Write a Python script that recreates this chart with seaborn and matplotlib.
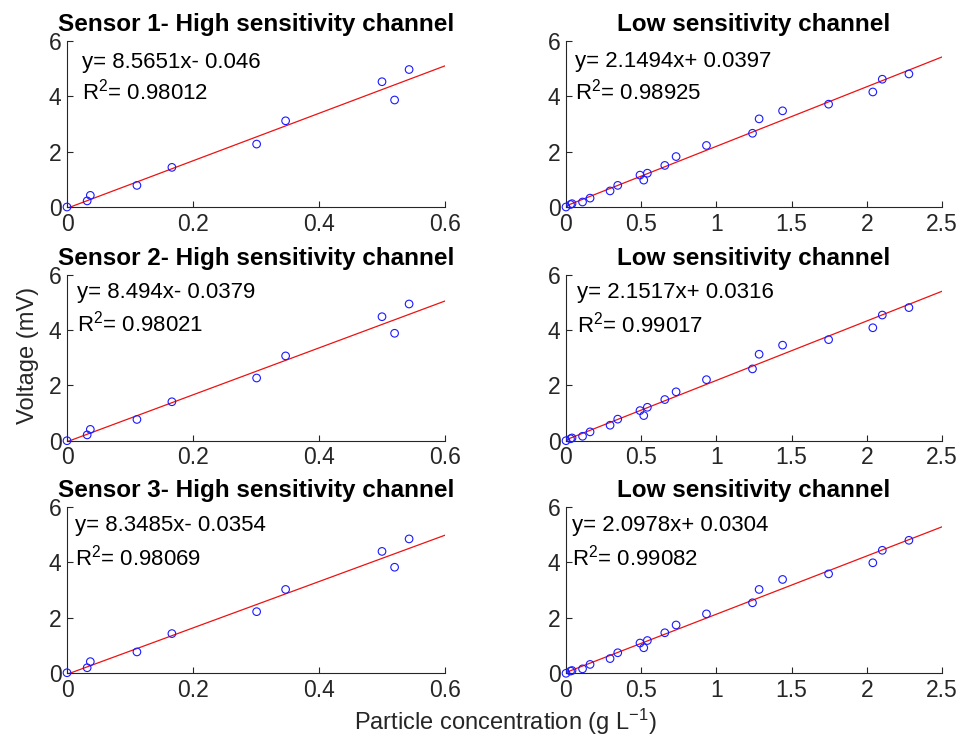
import numpy as np
import pandas as pd
import matplotlib
matplotlib.use("Agg")
import matplotlib.pyplot as plt
import seaborn as sns

# ---- data ----
high_x = [0.0, 0.032, 0.037, 0.111, 0.1665, 0.301, 0.347, 0.500, 0.520, 0.543]
high_y1 = [0.0, 0.22, 0.42, 0.78, 1.43, 2.27, 3.11, 4.52, 3.86, 4.96]
high_y2 = [0.0, 0.21, 0.41, 0.77, 1.41, 2.27, 3.07, 4.49, 3.89, 4.95]
high_y3 = [0.02, 0.20, 0.42, 0.77, 1.43, 2.22, 3.02, 4.39, 3.82, 4.84]

low_x = [0.0, 0.03, 0.04, 0.11, 0.16, 0.293, 0.344, 0.492, 0.517, 0.541,
         0.657, 0.732, 0.934, 1.24, 1.284, 1.44, 1.746, 2.04, 2.103, 2.28]
low_y1 = [0.0, 0.09, 0.12, 0.18, 0.32, 0.58, 0.78, 1.15, 0.97, 1.22,
          1.50, 1.82, 2.22, 2.66, 3.18, 3.47, 3.71, 4.15, 4.61, 4.80]
low_y2 = [0.0, 0.07, 0.10, 0.16, 0.32, 0.56, 0.78, 1.09, 0.91, 1.21,
          1.49, 1.77, 2.21, 2.60, 3.13, 3.46, 3.66, 4.09, 4.55, 4.82]
low_y3 = [0.0, 0.08, 0.10, 0.16, 0.32, 0.53, 0.74, 1.09, 0.92, 1.18,
          1.46, 1.74, 2.14, 2.54, 3.02, 3.38, 3.58, 3.98, 4.43, 4.79]

titles = ["Sensor 1- High sensitivity channel", "Low sensitivity channel",
          "Sensor 2- High sensitivity channel", "Low sensitivity channel",
          "Sensor 3- High sensitivity channel", "Low sensitivity channel"]
slopes = [8.5651, 2.1494, 8.494, 2.1517, 8.3485, 2.0978]
intercepts = [-0.046, 0.0397, -0.0379, 0.0316, -0.0354, 0.0304]
eq_texts = ["y= 8.5651x- 0.046", "y= 2.1494x+ 0.0397",
            "y= 8.494x- 0.0379", "y= 2.1517x+ 0.0316",
            "y= 8.3485x- 0.0354", "y= 2.0978x+ 0.0304"]
r2_texts = ["0.98012", "0.98925", "0.98021", "0.99017", "0.98069", "0.99082"]

high_xticks = [0, 0.2, 0.4, 0.6]
high_xticklabels = ["0", "0.2", "0.4", "0.6"]
low_xticks = [0, 0.5, 1, 1.5, 2, 2.5]
low_xticklabels = ["0", "0.5", "1", "1.5", "2", "2.5"]
yticks = [0, 2, 4, 6]
yticklabels = ["0", "2", "4", "6"]

# ---- style ----
sns.set_theme(style="ticks")
plt.rcParams['font.family'] = ['Liberation Sans', 'DejaVu Sans']
plt.rcParams['mathtext.fontset'] = 'custom'
plt.rcParams['mathtext.rm'] = 'Liberation Sans'
plt.rcParams['mathtext.it'] = 'Liberation Sans'

dark = "#262626"
fig = plt.figure(figsize=(9.64, 7.43), dpi=100)
W, H = 964, 743
col_x = [(67, 445), (566, 942)]
row_y = [(40.7, 207), (275, 440.7), (506.7, 673.3)]

ys_high = [high_y1, high_y2, high_y3]
ys_low = [low_y1, low_y2, low_y3]
text_pos = [(0.024, 5.23, 4.16), (0.06, 5.24, 4.16),
            (0.016, 5.35, 4.26), (0.073, 5.35, 4.19),
            (0.013, 5.33, 4.18), (0.04, 5.33, 4.18)]

for r in range(3):
    for c in range(2):
        i = r * 2 + c
        x0, x1 = col_x[c]
        yt, yb = row_y[r]
        ax = fig.add_axes([x0 / W, 1 - yb / H, (x1 - x0) / W, (yb - yt) / H])
        if c == 0:
            xs, ys = high_x, ys_high[r]
            xmax, xt, xtl = 0.6, high_xticks, high_xticklabels
        else:
            xs, ys = low_x, ys_low[r]
            xmax, xt, xtl = 2.5, low_xticks, low_xticklabels
        df = pd.DataFrame({"x": xs, "y": ys})
        fit = pd.DataFrame({"x": [0, xmax]})
        fit["y"] = slopes[i] * fit["x"] + intercepts[i]
        sns.lineplot(data=fit, x="x", y="y", ax=ax, color="#ee1111", linewidth=0.9)
        sns.scatterplot(data=df, x="x", y="y", ax=ax, marker="o", s=30,
                        facecolors="none", edgecolor="#1a1aff", linewidth=0.8,
                        zorder=3, clip_on=False)
        ax.set_xlim(0, xmax)
        ax.set_ylim(0, 6)
        ax.set_xticks(xt)
        ax.set_xticklabels(xtl)
        ax.set_yticks(yticks)
        ax.set_yticklabels(yticklabels)
        ax.set_xlabel("")
        ax.set_ylabel("")
        ax.tick_params(direction="in", length=4, width=0.8, colors=dark,
                       labelsize=16.5, pad=4, labelcolor=dark)
        for s in ["top", "right"]:
            ax.spines[s].set_visible(False)
        for s in ["left", "bottom"]:
            ax.spines[s].set_color(dark)
            ax.spines[s].set_linewidth(0.8)
        ax.set_title(titles[i], fontsize=17.5, fontweight="bold", color="black", pad=7)
        tx, ty1, ty2 = text_pos[i]
        ax.text(tx, ty1, eq_texts[i], fontsize=16, color="black", va="center", ha="left")
        ax.text(tx, ty2, "R$^2$= " + r2_texts[i], fontsize=16, color="black",
                va="center", ha="left")

fig.text(28 / W, 1 - 355 / H, "Voltage (mV)", rotation=90, fontsize=17,
         color=dark, va="center", ha="center")
fig.text(505 / W, 1 - 722 / H, "Particle concentration (g L$^{-1}$)", fontsize=17,
         color=dark, va="center", ha="center")

fig.savefig("out.png", dpi=100)
